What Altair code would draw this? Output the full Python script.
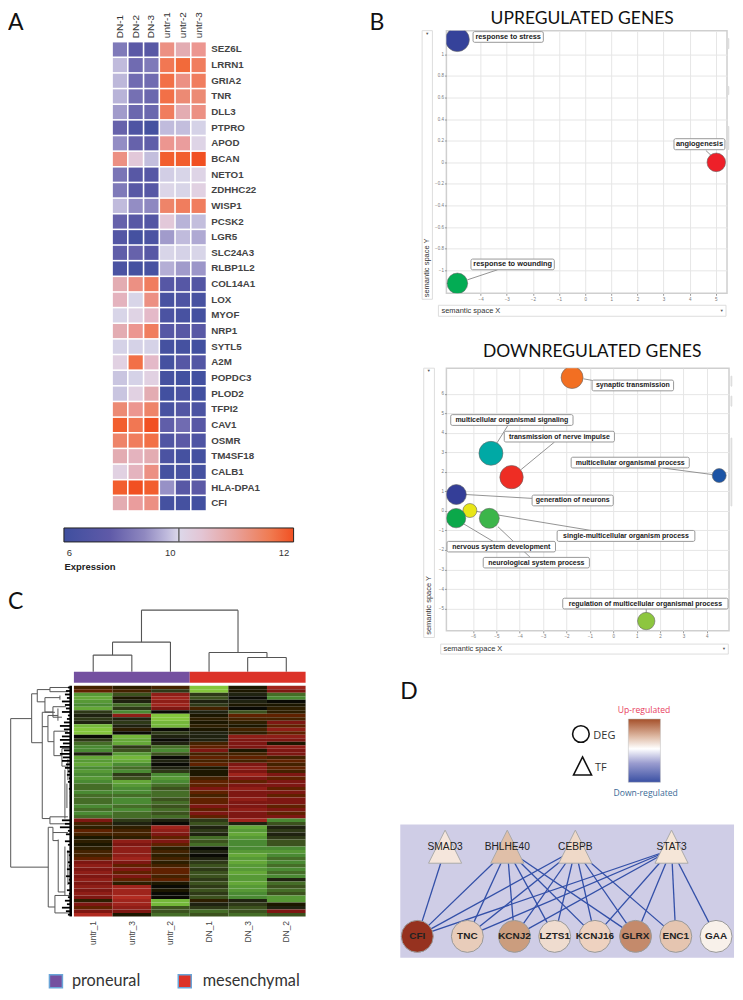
import altair as alt
import pandas as pd

FONT = "Liberation Sans"
HFONT = "Lato"

# ---------- Panel A ----------
a_samples = ["DN-1", "DN-2", "DN-3", "untr-1", "untr-2", "untr-3"]
a_genes = ["SEZ6L","LRRN1","GRIA2","TNR","DLL3","PTPRO","APOD","BCAN","NETO1","ZDHHC22","WISP1","PCSK2","LGR5",
           "SLC24A3","RLBP1L2","COL14A1","LOX","MYOF","NRP1","SYTL5","A2M","POPDC3","PLOD2","TFPI2","CAV1","OSMR",
           "TM4SF18","CALB1","HLA-DPA1","CFI"]
a_dn1 = [7.7,9.1,9.0,8.9,8.4,7.2,8.1,11.4,7.6,7.7,9.1,7.2,6.7,7.1,6.4,11.0,10.9,9.9,11.0,9.8,10.4,9.4,9.4,11.5,12.1,11.6,11.0,10.4,12.1,11.0]
a_dn2 = [7.0,7.4,7.4,7.5,7.3,6.5,7.2,10.6,6.9,6.9,8.1,6.9,6.2,7.2,6.2,11.4,9.9,10.3,11.3,9.8,11.9,9.8,10.4,11.3,11.8,11.7,10.9,10.9,12.2,11.2]
a_dn3 = [6.9,7.7,7.4,7.3,7.3,6.2,7.1,9.2,6.8,6.8,8.0,6.7,6.4,6.9,6.3,11.7,11.4,10.8,11.7,9.8,10.8,10.4,11.0,11.6,12.2,11.9,11.0,11.4,12.1,11.4]
a_un1 = [11.4,11.8,11.9,11.9,11.7,9.1,11.3,12.1,9.7,10.1,11.6,10.6,8.4,9.9,8.8,6.8,6.3,6.4,6.8,6.2,6.2,6.2,6.1,6.3,7.1,6.6,6.4,6.2,8.2,6.2]
a_un2 = [11.0,12.0,11.4,11.5,11.0,9.2,11.2,12.1,9.9,9.9,11.7,8.9,9.1,9.8,8.4,6.8,6.5,6.3,6.9,6.2,6.8,6.1,6.4,6.7,7.4,7.0,6.2,6.3,6.9,6.2]
a_un3 = [11.3,11.7,11.7,11.5,11.4,9.8,10.2,12.2,10.2,10.4,11.7,9.2,8.7,9.9,8.3,6.7,6.3,6.2,6.9,6.1,6.7,6.1,6.1,6.4,6.9,6.5,6.2,6.2,7.0,6.1]
expr_ticks = [6, 10, 12]
expr_mid = [10.16]

# ---------- Panel C ----------
c_samples = ["untr_1", "untr_3", "untr_2", "DN_1", "DN_3", "DN_2"]
c_un1 = [3,4,-6,-7,-6,-5,-7,-2,-1,-2,-1,-8,-9,-9,0,-2,-4,-5,-5,-1,-7,-6,-7,-5,-6,-5,-6,-5,-4,-4,-5,-4,-4,-4,-5,-4,-5,-4,5,3,2,4,3,1,2,1,2,3,3,4,5,6,5,6,5,6,5,6,5,6,5,2,5,4,5,8]
c_un3 = [2,3,-3,1,-1,-4,-2,-5,6,-1,-2,-1,2,0,-8,-7,-7,-2,-3,-6,-8,-7,-5,-4,-5,-2,-3,-7,-6,-5,-5,-4,-5,-5,-4,-5,-4,-4,-2,-1,2,3,3,2,6,5,6,6,6,7,5,4,5,4,5,4,2,7,7,7,8,7,7,6,5,1]
c_un2 = [3,-2,6,7,6,7,5,0,-9,-9,-8,-8,0,-2,-1,0,-1,-4,-5,-3,0,-1,0,-1,-2,-5,-6,-5,-4,-3,-4,-4,-3,-4,-3,-4,-3,-4,-1,0,7,6,5,4,5,4,2,3,2,3,2,3,4,4,3,4,1,0,1,0,0,-8,-8,-3,-3,-4]
c_dn1 = [-9,-9,-2,-3,-1,-2,3,-1,1,2,1,2,1,-1,-1,-1,3,4,5,3,4,3,4,1,1,1,3,4,4,5,4,3,4,4,5,4,5,4,-2,-3,-1,-2,-1,-4,-3,-4,0,-1,0,-1,-2,-3,-2,-3,-3,-2,-3,-2,-3,-2,-3,2,-1,-2,-4,-3]
c_dn3 = [1,1,-1,0,-1,1,0,-3,4,3,2,1,3,2,6,5,5,5,1,3,4,3,5,6,5,7,5,4,5,6,5,5,6,5,5,6,5,5,7,-1,-7,-6,-7,-6,-5,-5,-5,-6,-7,-6,-7,-6,-6,-7,-6,-6,-7,-6,-6,-5,-5,-1,-2,-3,-3,-4]
c_dn2 = [7,5,-4,-5,0,1,2,2,4,3,5,4,6,4,6,5,1,6,5,5,3,4,3,4,3,5,4,5,5,4,5,4,5,5,4,5,4,5,-5,-3,-1,-2,-1,-2,-3,-3,-5,-6,-5,-4,-5,-4,-5,-4,-5,-1,-4,-3,-4,-3,-6,-6,1,-1,5,-3]
# merges of the sample tree: left position, right position, left height, right height, merge height
col_merges = [(0.5,1.5,0,0,16.7),(1.0,2.5,16.7,0,29.7),(4.5,5.5,0,0,14.3),(3.5,5.0,0,14.3,19.3),(1.75,4.25,29.7,19.3,61.7)]
# row tree: distance 0, row 0, distance 1, row 1
row_tree = [(.7,9.4,.7,51.9),(.7,9.4,21.7,9.4),(21.7,2.3,21.7,16.3),(21.7,2.3,27.3,2.3),(27.3,1.1,27.3,4.6),(27.3,1.1,40,1.1),
 (27.3,4.6,35,4.6),(40,.5,40,1.7),(40,.5,60,.5),(40,1.7,58,1.7),(35,3.4,35,7.5),(35,3.4,50,3.4),(35,7.5,43,7.5),(50,2.8,50,4),
 (43,6,43,9),(43,6,56,6),(43,9,52,9),(21.7,16.3,32.3,16.3),(32.3,7.6,32.3,38),(32.3,7.6,45,7.6),(32.3,11.7,38,11.7),(38,8.5,38,16),
 (38,8.5,48,8.5),(38,16,44,16),(48,6.5,48,10),(44,13,44,20),(44,13,58,13),(44,20,52,20),(52,18,52,23),(52,18,60,18),(52,23,58,23),
 (58,21,58,27),(55,24,55,38),(57,28,57,35),(32.3,38,40,38),(40,37.5,40,39.5),(40,37.5,58,37.5),(40,39.5,62,39.5),
 (.7,51.9,38.3,51.9),(38.3,40.5,38.3,63.3),(38.3,40.5,43,40.5),(38.3,63.3,45,63.3),(45,60,45,65),(45,60,60,60),(45,65,60,65),
 (43,40.5,43,44.3),(43,44.3,48.3,44.3),(48.3,44,48.3,59),(48.3,59,55,59),(55,46,55,60),(58,47,58,57),(43,42,58,42)]
row_twigs = [58,56,55,57,52,55,56,52,58,57,54,50,54,55,52,50,53,50,54,50,53,52,56,55,58,57,59,58,60,59,60,60,61,60,61,60,61,60,
             52,55,50,58,56,60,55,58,60,57,59,60,58,59,57,60,56,59,58,60,57,59,58,55,57,52,56,58]
groups = ["proneural", "mesenchymal"]
group_colors = ["#7450a0", "#dc3228"]

# ---------- Panel B ----------
up_terms = ["response to stress", "angiogenesis", "response to wounding"]
up_x = [-4.89, 5.02, -4.89]
up_y = [1.137, 0.0, -1.121]
up_r = [12, 9.3, 10.3]
up_colors = ["#35429a", "#ee2029", "#03ac54"]
up_box_x = [(-4.29,-1.60),(3.40,5.35),(-4.37,-1.18)]
up_box_y = [(1.211,1.112),(0.219,0.117),(-0.896,-0.995)]
up_lines = [(4.62,0.11,4.86,0.055),(-3.35,-0.995,-4.50,-1.088)]

dn_terms = ["synaptic transmission","multicellular organismal signaling","transmission of nerve impulse",
            "multicellular organismal process","generation of neurons","single-multicellular organism process",
            "nervous system development","neurological system process","regulation of multicellular organismal process"]
dn_x = [-1.76,-5.23,-4.35,4.53,-6.71,-6.13,-6.72,-5.30,1.41]
dn_y = [6.83,2.95,1.73,1.81,0.84,0.02,-0.37,-0.38,-5.64]
dn_r = [11,12,11.7,7,10,7,9.7,10,8.7]
dn_colors = ["#f26f22","#00a9a5","#ee2d24","#1c54a5","#343e98","#e8e617","#0ba84a","#3cb54a","#8dc63f"]
dn_box_x = [(-0.905,2.58),(-6.95,-1.72),(-4.66,0.05),(-1.80,3.25),(-3.47,0.0),(-2.40,3.49),(-7.11,-2.47),(-5.56,-1.02),(-2.16,4.91)]
dn_box_y = [(6.70,6.15),(4.93,4.38),(4.08,3.53),(2.75,2.20),(0.81,0.26),(-1.0,-1.56),(-1.56,-2.10),(-2.38,-2.92),(-4.47,-5.02)]
dn_lines = [(-1.275,6.765,-0.877,6.68),(-4.504,4.38,-4.974,3.48),(-2.51,3.53,-3.94,2.12),(2.11,2.20,4.25,1.86),(-6.31,0.84,-3.44,0.64),
            (-5.93,-0.01,-0.95,-1.0),(-6.43,-0.64,-5.14,-1.56),(-4.93,-0.81,-3.55,-2.38),(1.41,-5.02,1.41,-5.24)]

# ---------- Panel D ----------
tf_names = ["SMAD3","BHLHE40","CEBPB","STAT3"]
tf_x = [170,360,568,862]
tf_colors = ["#f5e6dc","#e0bfa8","#efd9c8","#f5e6d8"]
gene_names = ["CFI","TNC","KCNJ2","LZTS1","KCNJ16","GLRX","ENC1","GAA"]
gene_x = [85,238,382,505,628,752,875,998]
gene_colors = ["#96321f","#e8ccba","#cb9d7e","#efdccf","#eed2c0","#c48a6b","#e5c5b0","#f8f1ea"]
edges = {"SMAD3":["CFI"],
         "BHLHE40":["CFI","TNC","KCNJ2","LZTS1","KCNJ16","GLRX"],
         "CEBPB":["CFI","TNC","KCNJ2","LZTS1","KCNJ16","GLRX","ENC1"],
         "STAT3":["CFI","TNC","KCNJ2","KCNJ16","GLRX","ENC1","GAA"]}
TRI = "M0,-1L1,1L-1,1Z"


def one(**k):
    return alt.Data(values=[k])


def spacer(h, w=10):
    return alt.Chart(one(a=0)).mark_point(opacity=0, size=1).encode(x=alt.value(5), y=alt.value(h / 2)).properties(width=w, height=h)


def note(text, x, y, **style):
    return alt.Chart(one(t=text)).mark_text(**style).encode(text="t:N", x=alt.value(x), y=alt.value(y))


def furniture(x, x2, y, y2, fill="white", stroke="#dddddd"):
    return alt.Chart(one(a=0)).mark_rect(fill=fill, stroke=stroke, strokeWidth=1).encode(
        x=alt.value(x), x2=alt.value(x2), y=alt.value(y), y2=alt.value(y2))


letter = dict(font=HFONT, fontSize=23, align="left", baseline="alphabetic", color="#111111")

# ---------- A heat map ----------
a_df = pd.DataFrame({"gene": a_genes, "DN-1": a_dn1, "DN-2": a_dn2, "DN-3": a_dn3,
                     "untr-1": a_un1, "untr-2": a_un2, "untr-3": a_un3}).melt("gene", var_name="s", value_name="v")
expr_scale = alt.Scale(domain=[6,7,8,9,10,10.5,11,11.5,12,12.2],
                       range=["#3f4f9f","#5b59a6","#8e88c1","#bdb8da","#dbd8ea","#e2cfdf","#e3acb2","#ec8a74","#f26a3a","#f15022"])
panel_a = alt.Chart(a_df).mark_rect().encode(
    x=alt.X("s:N", title=None, sort=a_samples,
            scale=alt.Scale(domain=a_samples, range=[39,132], paddingInner=0.1, paddingOuter=0),
            axis=alt.Axis(orient="top", domain=False, ticks=False, labelAngle=270, labelFontSize=10, labelPadding=4, labelColor="#333333")),
    y=alt.Y("gene:N", title=None, sort=a_genes, scale=alt.Scale(domain=a_genes, paddingInner=0.1, paddingOuter=0.05),
            axis=alt.Axis(orient="right", domain=False, ticks=False, labelFontSize=9.8, labelFontWeight="bold", labelColor="#444444", labelPadding=5, labelOverlap=False)),
    color=alt.Color("v:Q", scale=expr_scale, legend=None),
).properties(width=132, height=470)

# colour bar
bar = alt.Chart(one(a=0)).mark_rect(
    stroke="#222222", strokeWidth=1,
    color=alt.Gradient(gradient="linear", x1=0, x2=1, y1=0, y2=0, stops=[
        alt.GradientStop(offset=0, color="#3f4f9f"), alt.GradientStop(offset=.2, color="#5f5aa8"),
        alt.GradientStop(offset=.35, color="#8f88c0"), alt.GradientStop(offset=.45, color="#c0bbdd"),
        alt.GradientStop(offset=.5, color="#dcd8ea"), alt.GradientStop(offset=.6, color="#e3c5d4"),
        alt.GradientStop(offset=.75, color="#e8a099"), alt.GradientStop(offset=.9, color="#f07a50"),
        alt.GradientStop(offset=1, color="#f15022")])
).encode(x=alt.value(-10), x2=alt.value(220), y=alt.value(0), y2=alt.value(14))
bar_tick = alt.Chart(pd.DataFrame({"v": expr_mid})).mark_rule(color="#555555", strokeWidth=1.3).encode(
    x=alt.X("v:Q", scale=alt.Scale(domain=[6,10,12], range=[-5,96,210], nice=False, zero=False),
            axis=alt.Axis(values=expr_ticks, domain=False, ticks=False, grid=False, labelFontSize=9.5, labelPadding=6, labelColor="#333333",
                          title="Expression", titleFontSize=9.5, titleFontWeight="bold", titleColor="#222222", titleAnchor="start", titleX=-10, titleY=20, titleAlign="left", labelOverlap=False, labelFlush=False)))
panel_bar = alt.layer(bar, bar_tick).properties(width=220, height=14)

# ---------- C ----------
col_seg = []
for x0, x1, h0, h1, hm in col_merges:
    col_seg += [dict(x=x0, x2=x0, y=h0, y2=hm), dict(x=x1, x2=x1, y=h1, y2=hm), dict(x=x0, x2=x1, y=hm, y2=hm)]
panel_col = alt.layer(
    alt.Chart(pd.DataFrame(col_seg)).mark_rule(color="#555555", strokeWidth=1.1).encode(
        x=alt.X("x:Q", axis=None, scale=alt.Scale(domain=[0,6], nice=False, zero=False)), x2="x2:Q",
        y=alt.Y("y:Q", axis=None, scale=alt.Scale(domain=[0,63], nice=False, zero=False)), y2="y2:Q"),
    note("C", -66, 0, **letter),
).properties(width=232, height=63)

panel_ann = alt.Chart(pd.DataFrame({"g": groups, "a": [0, 3], "b": [3, 6], "c": group_colors})).mark_rect().encode(
    x=alt.X("a:Q", axis=None, scale=alt.Scale(domain=[0,6], nice=False, zero=False)), x2="b:Q",
    color=alt.Color("c:N", scale=None)).properties(width=232, height=11)

c_df = pd.DataFrame({"untr_1": c_un1, "untr_3": c_un3, "untr_2": c_un2, "DN_1": c_dn1, "DN_3": c_dn3, "DN_2": c_dn2})
c_df["r"] = range(len(c_df))
c_df = c_df.melt("r", var_name="s", value_name="v")
c_heat = alt.Chart(c_df).mark_rect().encode(
    x=alt.X("s:N", title=None, sort=c_samples, scale=alt.Scale(domain=c_samples, paddingInner=0, paddingOuter=0),
            axis=alt.Axis(domain=False, ticks=False, labelAngle=270, labelFontSize=8.5, labelPadding=4, labelColor="#444444")),
    y=alt.Y("r:O", axis=None, scale=alt.Scale(paddingInner=0, paddingOuter=0)),
    color=alt.Color("v:Q", legend=None, scale=alt.Scale(domain=[-10,-5,0,5,10],
                    range=["#95d53d","#4a8a33","#0a0a05","#7e1712","#d4392c"])),
)
tree_x = alt.Scale(domain=[0,62], range=[-64,-2], nice=False, zero=False)
tree_y = alt.Scale(domain=[0,66], range=[0,231], nice=False, zero=False)
tree_df = pd.DataFrame(row_tree, columns=["d0","r0","d1","r1"])
tree = alt.Chart(tree_df).mark_rule(color="#555555", strokeWidth=1).encode(
    x=alt.X("d0:Q", axis=None, scale=tree_x), x2="d1:Q",
    y=alt.Y("r0:Q", axis=None, scale=tree_y), y2="r1:Q")
twig_df = pd.DataFrame({"d0": row_twigs, "d1": [62]*len(row_twigs), "r": [i + .5 for i in range(len(row_twigs))]})
twigs = alt.Chart(twig_df).mark_rule(color="#000000", strokeWidth=1.8).encode(
    x=alt.X("d0:Q", axis=None, scale=tree_x), x2="d1:Q",
    y=alt.Y("r:Q", axis=None, scale=tree_y))
spine = alt.Chart(pd.DataFrame({"d": [60.8], "r0": [0], "r1": [66]})).mark_rule(color="#000000", strokeWidth=2.6).encode(
    x=alt.X("d:Q", axis=None, scale=tree_x),
    y=alt.Y("r0:Q", axis=None, scale=tree_y), y2="r1:Q")
panel_c = alt.layer(c_heat, tree, twigs, spine).resolve_scale(x="independent", y="independent").properties(width=232, height=231)

leg_df = pd.DataFrame({"g": groups, "c": group_colors})
leg_style = dict(font=HFONT, fontSize=16.3, align="left", baseline="middle", color="#333333")
panel_leg = alt.layer(
    alt.Chart(leg_df.iloc[[0]]).mark_square(size=169, opacity=1, stroke="#6aa5d8", strokeWidth=1.5).encode(
        x=alt.value(-18), y=alt.value(9), fill=alt.Fill("c:N", scale=None)),
    alt.Chart(leg_df.iloc[[1]]).mark_square(size=169, opacity=1, stroke="#6aa5d8", strokeWidth=1.5).encode(
        x=alt.value(111), y=alt.value(9), fill=alt.Fill("c:N", scale=None)),
    note(groups[0], -2, 9, **leg_style),
    note(groups[1], 129, 9, **leg_style),
).properties(width=232, height=10)

frame = alt.Chart(one(a=0)).mark_rect(opacity=0).encode(
    x=alt.value(-66), x2=alt.value(661), y=alt.value(0), y2=alt.value(980))
panel_top = alt.layer(frame, note("A", -66, 20, **letter)).properties(width=10, height=32)

col1 = alt.vconcat(panel_top, panel_a, spacer(17), panel_bar, spacer(67), panel_col, panel_ann, spacer(3),
                   panel_c, spacer(56), panel_leg, spacing=0, bounds="flush").resolve_scale(color="independent")


# ---------- B ----------
def bubble_panel(terms, xs, ys, rs, colors, box_x, box_y, lines, xdom, ydom, xticks, yticks, fs):
    sx = alt.Scale(domain=xdom, nice=False, zero=False)
    sy = alt.Scale(domain=ydom, nice=False, zero=False)
    axis_common = dict(domain=False, grid=True, gridColor="#e6e6e6", gridWidth=1, tickColor="#999999", tickSize=2, format="~g",
                       labelFontSize=4.5, labelColor="#777777", labelPadding=1, labelOverlap=False, labelFlush=False)
    ex = lambda f: alt.X(f, title=None, scale=sx, axis=alt.Axis(values=xticks, **axis_common))
    ey = lambda f: alt.Y(f, title=None, scale=sy, axis=alt.Axis(values=yticks, **axis_common))
    df = pd.DataFrame({"term": terms, "x": xs, "y": ys, "s": [4 * r * r for r in rs], "c": colors})
    bubbles = alt.Chart(df).mark_circle(clip=True, opacity=1, stroke="#666666", strokeWidth=0.6).encode(
        x=ex("x:Q"), y=ey("y:Q"), size=alt.Size("s:Q", scale=None, legend=None), color=alt.Color("c:N", scale=None))
    lines_df = pd.DataFrame(lines, columns=["x0","y0","x1","y1"])
    leaders = alt.Chart(lines_df).mark_rule(color="#888888", strokeWidth=0.9).encode(
        x=ex("x0:Q"), x2="x1:Q", y=ey("y0:Q"), y2="y1:Q")
    box_df = pd.DataFrame({"term": terms, "x0": [b[0] for b in box_x], "x1": [b[1] for b in box_x],
                           "y0": [b[0] for b in box_y], "y1": [b[1] for b in box_y]})
    box_df["xc"] = (box_df.x0 + box_df.x1) / 2
    box_df["yc"] = (box_df.y0 + box_df.y1) / 2
    shadow = alt.Chart(box_df).mark_rect(fill="white", stroke="#999999", strokeWidth=1, cornerRadius=1.5).encode(
        x=ex("x0:Q"), x2="x1:Q", y=ey("y0:Q"), y2="y1:Q")
    txt = alt.Chart(box_df).mark_text(fontSize=fs, fontWeight="bold", color="#222222", font=FONT).encode(
        x=ex("xc:Q"), y=ey("yc:Q"), text="term:N")
    return [leaders, bubbles, shadow, txt]


hdr = dict(font=HFONT, fontSize=17.5, align="center", baseline="alphabetic", color="#111111")
sem = dict(font=FONT, fontSize=7.5, color="#333333", baseline="middle", align="left")
tri = dict(font=FONT, fontSize=4, color="#555555", align="center", baseline="middle")

up_layers = bubble_panel(up_terms, up_x, up_y, up_r, up_colors, up_box_x, up_box_y, up_lines,
                         [-5.31, 5.43], [-1.213, 1.22], [-4,-3,-2,-1,0,1,2,3,4,5],
                         [-1,-.8,-.6,-.4,-.2,0,.2,.4,.6,.8,1], 7.4)
panel_up = alt.layer(
    *up_layers,
    furniture(-24.3, -14, 0, 269),
    furniture(-8, 280, 275, 286),
    furniture(282, 282.8, 8, 18, fill="#dddddd", stroke="#dddddd"),
    furniture(282, 282.8, 56, 64, fill="#dddddd", stroke="#dddddd"),
    furniture(282, 282.8, 96, 119, fill="#dddddd", stroke="#dddddd"),
    note("UPREGULATED GENES", 136, -7, **hdr),
    note("B", -77, -1, **letter),
    note("semantic space Y", -19, 267, angle=270, **sem),
    note("semantic space X", -5, 281, **sem),
    note("\u25bc", -19.3, 3, **tri),
    note("\u25bc", 275.7, 281, **tri),
).properties(width=281, height=263, view=alt.ViewConfig(stroke="#cfcfcf", strokeWidth=1.5))

dn_layers = bubble_panel(dn_terms, dn_x, dn_y, dn_r, dn_colors, dn_box_x, dn_box_y, dn_lines,
                         [-7.135, 4.95], [-6.14, 7.31], [-6,-5,-4,-3,-2,-1,0,1,2,3,4],
                         [-5,-4,-3,-2,-1,0,1,2,3,4,5,6], 7.0)
panel_dn = alt.layer(
    *dn_layers,
    furniture(-22.7, -12, 0, 269.7),
    furniture(-5.7, 282.3, 276.3, 286.3),
    furniture(285, 285.8, 8, 18, fill="#dddddd", stroke="#dddddd"),
    furniture(285, 285.8, 28, 38, fill="#dddddd", stroke="#dddddd"),
    furniture(285, 285.8, 70, 138, fill="#dddddd", stroke="#dddddd"),
    note("DOWNREGULATED GENES", 146, -11.3, **hdr),
    note("semantic space Y", -17.4, 267, angle=270, **sem),
    note("semantic space X", -3, 281.3, **sem),
    note("\u25bc", -17.7, 3, **tri),
    note("\u25bc", 278, 281.3, **tri),
).properties(width=283, height=263, view=alt.ViewConfig(stroke="#cfcfcf", strokeWidth=1.5))

# ---------- D ----------
sx = alt.Scale(domain=[0,1059], range=[-57,290], nice=False, zero=False)
sy = alt.Scale(domain=[0,832], range=[0,277.3], nice=False, zero=False)
X = lambda f: alt.X(f, axis=None, scale=sx)
Y = lambda f: alt.Y(f, axis=None, scale=sy)
tf_df = pd.DataFrame({"n": tf_names, "x": tf_x, "y": [498.5]*4, "c": tf_colors, "ly": [500]*4})
gene_df = pd.DataFrame({"n": gene_names, "x": gene_x, "y": [768]*8, "c": gene_colors})
gx = dict(zip(gene_names, gene_x))
tx = dict(zip(tf_names, tf_x))
edge_df = pd.DataFrame([dict(x0=tx[t], y0=507, x1=gx[g], y1=768) for t, gs in edges.items() for g in gs])
bg_df = pd.DataFrame({"x0":[33],"x1":[1053],"y0":[432],"y1":[832]})
key_bar = pd.DataFrame({"x0":[730],"x1":[828],"y0":[115],"y1":[305]})
key_txt = dict(font="Open Sans", fontSize=11, align="left", baseline="middle", color="#333333")
panel_d = alt.layer(
    alt.Chart(bg_df).mark_rect(color="#cfcde6").encode(x=X("x0:Q"), x2="x1:Q", y=Y("y0:Q"), y2="y1:Q"),
    alt.Chart(edge_df).mark_rule(color="#3350a8", strokeWidth=1.3).encode(x=X("x0:Q"), x2="x1:Q", y=Y("y0:Q"), y2="y1:Q"),
    alt.Chart(tf_df).mark_point(shape=TRI, size=1100, filled=True, opacity=1, stroke="#aaaaaa", strokeWidth=1).encode(
        x=X("x:Q"), y=Y("y:Q"), fill=alt.Fill("c:N", scale=None)),
    alt.Chart(tf_df).mark_text(font=FONT, fontSize=10.2, color="#222222").encode(x=X("x:Q"), y=Y("ly:Q"), text="n:N"),
    alt.Chart(gene_df).mark_circle(size=1024, opacity=1, stroke="#999999", strokeWidth=1).encode(
        x=X("x:Q"), y=Y("y:Q"), color=alt.Color("c:N", scale=None)),
    alt.Chart(gene_df).mark_text(font=FONT, fontSize=10, fontWeight="bold", color="#222222").encode(x=X("x:Q"), y=Y("y:Q"), text="n:N"),
    alt.Chart(key_bar).mark_rect(stroke="#bbbbbb", strokeWidth=0.5, color=alt.Gradient(
        gradient="linear", x1=0, x2=0, y1=0, y2=1, stops=[
            alt.GradientStop(offset=0, color="#a5502a"), alt.GradientStop(offset=.28, color="#dfbba6"),
            alt.GradientStop(offset=.47, color="#ffffff"), alt.GradientStop(offset=.7, color="#9a9ccf"),
            alt.GradientStop(offset=1, color="#3a50a3")])).encode(x=X("x0:Q"), x2="x1:Q", y=Y("y0:Q"), y2="y1:Q"),
    alt.Chart(one(x=585, y=160)).mark_circle(size=277, opacity=1, fill="white", stroke="#111111", strokeWidth=1.6).encode(x=X("x:Q"), y=Y("y:Q")),
    alt.Chart(one(x=590, y=256)).mark_point(shape=TRI, size=324, filled=True, opacity=1, fill="white", stroke="#111111", strokeWidth=1.6).encode(x=X("x:Q"), y=Y("y:Q")),
    alt.Chart(one(x=623, y=165, t="DEG")).mark_text(**key_txt).encode(x=X("x:Q"), y=Y("y:Q"), text="t:N"),
    alt.Chart(one(x=628, y=263, t="TF")).mark_text(**key_txt).encode(x=X("x:Q"), y=Y("y:Q"), text="t:N"),
    alt.Chart(one(x=778, y=88, t="Up-regulated")).mark_text(font="Open Sans", fontSize=8.6, color="#e8405e").encode(x=X("x:Q"), y=Y("y:Q"), text="t:N"),
    alt.Chart(one(x=783, y=338, t="Down-regulated")).mark_text(font="Open Sans", fontSize=8.6, color="#3a6a96").encode(x=X("x:Q"), y=Y("y:Q"), text="t:N"),
    alt.Chart(one(x=33, y=55, t="D")).mark_text(**letter).encode(x=X("x:Q"), y=Y("y:Q"), text="t:N"),
).properties(width=288, height=277.3)

col2 = alt.vconcat(spacer(21), panel_up, spacer(75), panel_dn, spacer(50), panel_d, spacing=0, bounds="flush").resolve_scale(color="independent")

chart = alt.hconcat(col1, col2, spacing=373, bounds="flush").resolve_scale(color="independent").properties(
    padding=0).configure_view(stroke=None).configure_axis(
    labelFont=FONT, titleFont=FONT).configure_text(font=FONT)

chart.save("out.html", embed_options={"renderer": "svg", "actions": False})
